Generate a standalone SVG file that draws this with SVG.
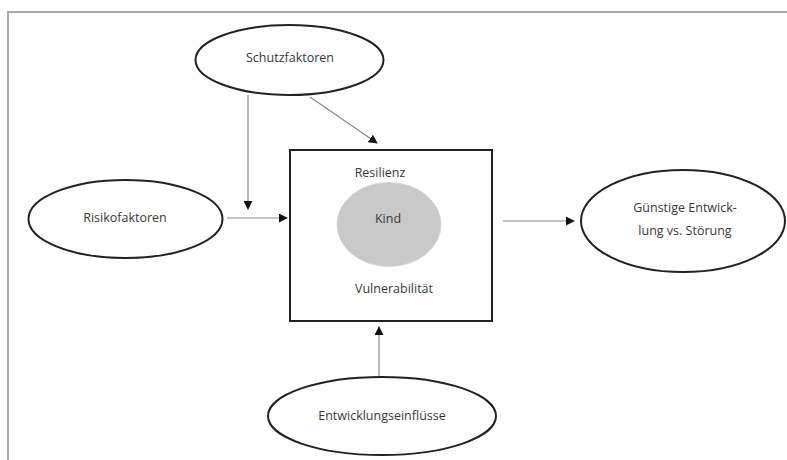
<svg xmlns="http://www.w3.org/2000/svg" width="787" height="460" viewBox="0 0 787 460">
<defs>
<style>
.node{fill:#fff;stroke:#222;stroke-width:2}
.t{font-family:"Open Sans","Noto Sans",sans-serif;font-size:12.5px;fill:#383838;text-anchor:middle}
.c{stroke:#888;stroke-width:1.2;fill:none;marker-end:url(#ah)}
</style>
<marker id="ah" viewBox="0 0 10 10" refX="9" refY="5" markerWidth="9" markerHeight="9" markerUnits="userSpaceOnUse" orient="auto">
<path d="M0,0 L10,5 L0,10 z" fill="#111"/>
</marker>
</defs>
<rect width="787" height="460" fill="#fff"/>
<g id="frame">
<path d="M7,12 H787 M8,12 V460" stroke="#aaa" stroke-width="2" fill="none"/>
</g>
<g id="connectors">
<line class="c" x1="248" y1="95" x2="248" y2="209"/>
<line class="c" x1="310" y1="97" x2="377" y2="143"/>
<line class="c" x1="227" y1="218" x2="287" y2="218"/>
<line class="c" x1="503" y1="221" x2="574" y2="221"/>
<line class="c" x1="379" y1="377" x2="379" y2="327"/>
</g>
<g id="schutzfaktoren">
<ellipse class="node" cx="289.5" cy="60" rx="94" ry="35"/>
<text class="t" x="290" y="62">Schutzfaktoren</text>
</g>
<g id="risikofaktoren">
<ellipse class="node" cx="125.5" cy="219" rx="97" ry="39"/>
<text class="t" x="125" y="222">Risikofaktoren</text>
</g>
<g id="kind-box">
<rect x="290" y="150" width="202" height="171" fill="#fff" stroke="#222" stroke-width="2"/>
<text class="t" x="380" y="177">Resilienz</text>
<ellipse cx="389" cy="224.5" rx="52" ry="42" fill="#c9c9c9" stroke="#d6d6d6" stroke-width="1"/>
<text class="t" x="388" y="223">Kind</text>
<text class="t" x="394" y="293">Vulnerabilität</text>
</g>
<g id="entwicklung-stoerung">
<ellipse class="node" cx="683" cy="221" rx="102" ry="51"/>
<text class="t" x="685" y="212">Günstige Entwick-</text>
<text class="t" x="685" y="235">lung vs. Störung</text>
</g>
<g id="entwicklungseinfluesse">
<ellipse class="node" cx="382" cy="416" rx="114" ry="39"/>
<text class="t" x="382" y="420">Entwicklungseinflüsse</text>
</g>
</svg>
